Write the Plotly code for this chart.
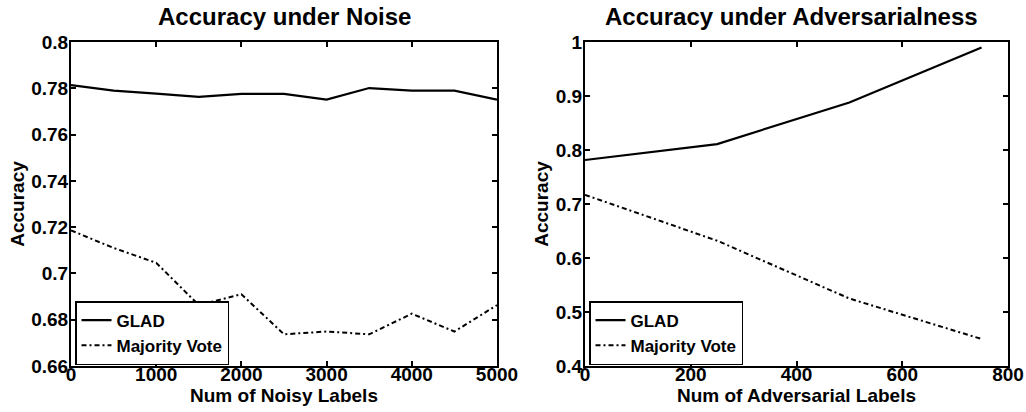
import plotly.graph_objects as go

# ---- data ----
noise_x = [0, 500, 1000, 1500, 2000, 2500, 3000, 3500, 4000, 4500, 5000]
noise_glad = [0.7814, 0.7790, 0.7777, 0.7763, 0.7776, 0.7776, 0.7751, 0.7801, 0.7790, 0.7790, 0.7751]
noise_mv = [0.7186, 0.7110, 0.7046, 0.6863, 0.6910, 0.6737, 0.6749, 0.6737, 0.6826, 0.6749, 0.6863]

adv_x = [0, 250, 500, 750]
adv_glad = [0.7815, 0.811, 0.888, 0.990]
adv_mv = [0.717, 0.632, 0.525, 0.450]

noise_yticks = [0.66, 0.68, 0.70, 0.72, 0.74, 0.76, 0.78, 0.80]
noise_ylabels = ["0.66", "0.68", "0.7", "0.72", "0.74", "0.76", "0.78", "0.8"]
noise_xticks = [0, 1000, 2000, 3000, 4000, 5000]
adv_yticks = [0.4, 0.5, 0.6, 0.7, 0.8, 0.9, 1.0]
adv_ylabels = ["0.4", "0.5", "0.6", "0.7", "0.8", "0.9", "1"]
adv_xticks = [0, 200, 400, 600, 800]

series_names = ["GLAD", "Majority Vote"]

FONT = "Liberation Sans, Arial, Helvetica, sans-serif"
W, H = 1026, 412
TICK = 19
AXT = 19
LEG = 17
TTL = 24

fig = go.Figure()
fig.add_trace(go.Scatter(x=noise_x, y=noise_glad, mode="lines", name=series_names[0],
                         line=dict(color="black", width=2.2), xaxis="x", yaxis="y", legend="legend"))
fig.add_trace(go.Scatter(x=noise_x, y=noise_mv, mode="lines", name=series_names[1],
                         line=dict(color="black", width=2, dash="5px,3px,2px,3px"),
                         xaxis="x", yaxis="y", legend="legend"))
fig.add_trace(go.Scatter(x=adv_x, y=adv_glad, mode="lines", name=series_names[0],
                         line=dict(color="black", width=2.2), xaxis="x2", yaxis="y2", legend="legend2"))
fig.add_trace(go.Scatter(x=adv_x, y=adv_mv, mode="lines", name=series_names[1],
                         line=dict(color="black", width=2, dash="5px,3px,2px,3px"),
                         xaxis="x2", yaxis="y2", legend="legend2"))

ax_common = dict(showgrid=False, zeroline=False, showline=True, linecolor="black", linewidth=2,
                 mirror="ticks", ticks="inside", ticklen=5, tickwidth=1.5, tickcolor="black",
                 tickfont=dict(size=TICK, color="black", family=FONT, weight="bold"),
                 automargin=False)
xax = dict(ax_common, ticklabelstandoff=-10)
yax = dict(ax_common, ticklabelstandoff=-3)

y0 = 1 - 366 / H
y1 = 1 - 42 / H

fig.update_layout(
    width=W, height=H,
    margin=dict(l=0, r=0, t=0, b=0),
    paper_bgcolor="white", plot_bgcolor="white",
    font=dict(family=FONT, color="black", weight="bold"),
    xaxis=dict(xax, domain=[71 / W, 497 / W], range=[0, 5000], tickvals=noise_xticks,
               anchor="y",
               title=dict(text="Num of Noisy Labels", standoff=0,
                          font=dict(size=AXT, family=FONT, weight="bold"))),
    yaxis=dict(yax, domain=[y0, y1], range=[0.66, 0.80], tickvals=noise_yticks,
               ticktext=noise_ylabels, anchor="x",
               title=dict(text="Accuracy", standoff=2,
                          font=dict(size=AXT, family=FONT, weight="bold"))),
    xaxis2=dict(xax, domain=[585 / W, 1008 / W], range=[0, 800], tickvals=adv_xticks,
                anchor="y2",
                title=dict(text="Num of Adversarial Labels", standoff=0,
                           font=dict(size=AXT, family=FONT, weight="bold"))),
    yaxis2=dict(yax, domain=[y0, y1], range=[0.4, 1.0], tickvals=adv_yticks,
                ticktext=adv_ylabels, anchor="x2",
                title=dict(text="Accuracy", standoff=2,
                           font=dict(size=AXT, family=FONT, weight="bold"))),
    legend=dict(x=75 / W, y=1 - 365 / H, xanchor="left", yanchor="bottom",
                bgcolor="white", bordercolor="black", borderwidth=1.5,
                font=dict(size=LEG, family=FONT, weight="bold"),
                itemwidth=30, tracegroupgap=0),
    legend2=dict(x=589 / W, y=1 - 365 / H, xanchor="left", yanchor="bottom",
                 bgcolor="white", bordercolor="black", borderwidth=1.5,
                 font=dict(size=LEG, family=FONT, weight="bold"),
                 itemwidth=30, tracegroupgap=0),
    annotations=[
        dict(text="Accuracy under Noise", x=284 / W, y=1 - 17 / H, xref="paper", yref="paper",
             showarrow=False, xanchor="center", yanchor="middle",
             font=dict(size=TTL, family=FONT, weight="bold")),
        dict(text="Accuracy under Adversarialness", x=791 / W, y=1 - 17 / H, xref="paper",
             yref="paper", showarrow=False, xanchor="center", yanchor="middle",
             font=dict(size=TTL, family=FONT, weight="bold")),
    ],
)

fig.write_html("out.html", config={"displayModeBar": False},
               post_script="document.body.style.margin='0';document.body.style.overflow='hidden';")
